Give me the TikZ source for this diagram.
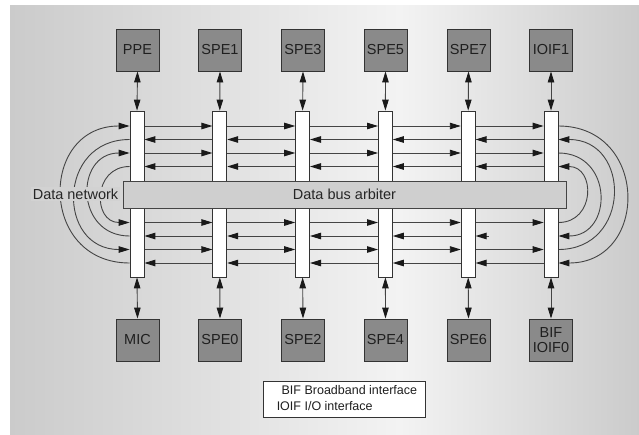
\documentclass[tikz,border=0pt]{standalone}
\usepackage{fontspec}
\setmainfont{Liberation Sans}
\usetikzlibrary{arrows.meta,calc}
\definecolor{bgside}{HTML}{CBCBCB}
\definecolor{bgmid}{HTML}{F3F3F3}
\definecolor{unitfill}{HTML}{8A8A8A}
\definecolor{edgecol}{HTML}{333333}
\definecolor{wirecol}{HTML}{444444}
\definecolor{arbfill}{HTML}{CFCFCF}
\begin{document}
\begin{tikzpicture}[x=1pt,y=-1pt,
  unit/.style={draw=edgecol, fill=unitfill, line width=0.9pt, minimum width=43pt, minimum height=42pt,
    inner sep=0pt, font=\fontsize{14.5}{15}\selectfont, text=black!88, align=center},
  busbar/.style={draw=edgecol, fill=white, line width=0.8pt, minimum width=14pt, minimum height=166pt, inner sep=0pt},
  wire/.style={draw=wirecol, line width=0.9pt},
  tip/.style={-{Triangle[length=11pt,width=6.5pt,color=black!90]}},
  dtip/.style={{Triangle[length=11pt,width=6.5pt,color=black!90]}-{Triangle[length=11pt,width=6.5pt,color=black!90]}},
  ring/.style={wire, looseness=1.7},
]
\useasboundingbox (0,0) rectangle (639,434);
% background
\fill[white] (0,0) rectangle (639,434);
\shade[left color=bgside, right color=bgmid] (10,5) rectangle (400.5,434);
\shade[left color=bgmid, right color=bgside] (400,5) rectangle (639,434);

% row levels
\coordinate (r1) at (0,126);
\coordinate (r2) at (0,139.5);
\coordinate (r3) at (0,153);
\coordinate (r4) at (0,166.5);
\coordinate (r5) at (0,222.5);
\coordinate (r6) at (0,236);
\coordinate (r7) at (0,249.5);
\coordinate (r8) at (0,263);

% bus bars
\node[busbar] (b0) at (137,194) {};
\node[busbar] (b1) at (219.8,194) {};
\node[busbar] (b2) at (302.6,194) {};
\node[busbar] (b3) at (385.4,194) {};
\node[busbar] (b4) at (468.2,194) {};
\node[busbar] (b5) at (551,194) {};

% rightward rings
\foreach \r in {r1,r3,r5,r7}
  \foreach \i [count=\j from 1] in {0,...,4}
    \draw[wire,tip] (b\i.east |- \r) -- (b\j.west |- \r);
% leftward rings
\foreach \r in {r2,r4,r8}
  \foreach \i [count=\j from 1] in {0,...,4}
    \draw[wire,tip] (b\j.west |- \r) -- (b\i.east |- \r);
\foreach \i [count=\j from 1] in {0,...,3}
  \draw[wire,tip] (b\j.west |- r6) -- (b\i.east |- r6);
\coordinate (stub) at ($(b4.east |- r6)+(13,0)$);
\draw[wire,tip] (stub) -- (b4.east |- r6);

% left turn-arounds
\draw[ring,tip] (b0.west |- r8) to[out=180,in=180] (b0.west |- r1);
\draw[ring,tip] (b0.west |- r2) to[out=180,in=180] (b0.west |- r7);
\draw[ring,tip] (b0.west |- r6) to[out=180,in=180] (b0.west |- r3);
\draw[ring,tip] (b0.west |- r4) to[out=180,in=180] (b0.west |- r5);
% right turn-arounds
\draw[ring,tip] (b5.east |- r1) to[out=0,in=0] (b5.east |- r8);
\draw[ring,tip] (b5.east |- r7) to[out=0,in=0] (b5.east |- r2);
\draw[ring,tip] (b5.east |- r3) to[out=0,in=0] (b5.east |- r6);
\draw[ring,tip] (b5.east |- r5) to[out=0,in=0] (b5.east |- r4);

% redraw bars on top of line ends
\foreach \i in {0,...,5} \node[busbar] at (b\i) {};

% arbiter
\node[draw=wirecol, fill=arbfill, line width=0.9pt, minimum width=443pt, minimum height=27pt, inner sep=0pt,
  font=\fontsize{14.5}{15}\selectfont, text=black!85] (arb) at (344.5,194.5) {Data bus arbiter};

% data network label
\node[fill=bgmid!17!bgside, inner sep=1.5pt, font=\fontsize{14.5}{15}\selectfont, text=black!85] (dn) at (75.5,194) {Data network};

% units
\node[unit] (t0) at (137.5,50) {PPE};
\node[unit] (t1) at (220,50) {SPE1};
\node[unit] (t2) at (303,50) {SPE3};
\node[unit] (t3) at (385.5,50) {SPE5};
\node[unit] (t4) at (468.5,50) {SPE7};
\node[unit] (t5) at (551,50) {IOIF1};
\node[unit] (u0) at (137.5,340) {MIC};
\node[unit] (u1) at (220,340) {SPE0};
\node[unit] (u2) at (303,340) {SPE2};
\node[unit] (u3) at (385.5,340) {SPE4};
\node[unit] (u4) at (468.5,340) {SPE6};
\node[unit] (u5) at (551,340) {BIF\\IOIF0};

\foreach \i in {0,...,5} {
  \draw[wire,dtip] (t\i.south) -- (b\i.north);
  \draw[wire,dtip] (b\i.south) -- (u\i.north);
}

% legend
\node[draw=edgecol, fill=white, line width=0.9pt, minimum width=162pt, minimum height=36pt, inner sep=0pt] (legend) at (344,399) {};
\node[anchor=west, inner sep=0pt, font=\fontsize{12.5}{16}\selectfont, text=black!88] (legtext) at ($(legend.west)+(14,0)$)
  {\begin{tabular}{@{}r@{\hspace{3.5pt}}l@{}}BIF & Broadband interface\\ IOIF & I/O interface\end{tabular}};
\end{tikzpicture}
\end{document}
